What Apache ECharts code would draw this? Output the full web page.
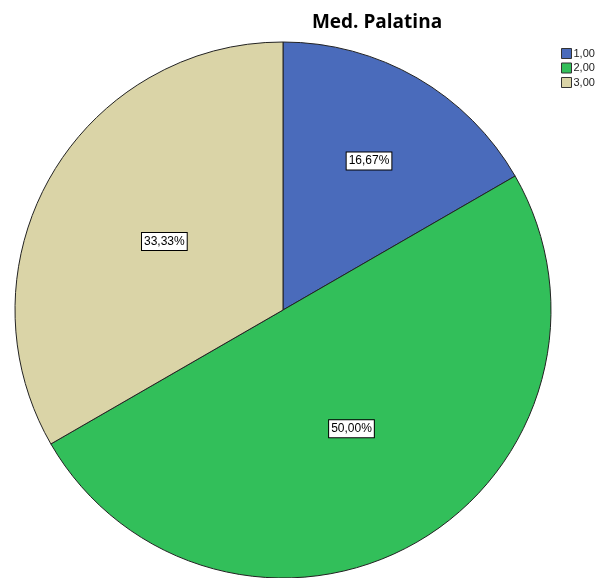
<!DOCTYPE html>
<html><head><meta charset="utf-8">
<script src="https://cdn.jsdelivr.net/npm/echarts@6/dist/echarts.min.js"></script>
<style>html,body{margin:0;padding:0;background:#fff}#c{width:597px;height:578px}</style>
</head><body><div id="c"></div>
<script>
const title = "Med. Palatina";
const categories = ["1,00", "2,00", "3,00"];
const percents = [16.67, 50.00, 33.33];
const colors = ["#4a6bbb", "#32bf5a", "#dad4a7"];

const chart = echarts.init(document.getElementById('c'));
const fmt = v => v.toFixed(2).replace('.', ',') + '%';
const labelStyle = {
  color: '#000', fontFamily: 'Liberation Sans, Arial', fontSize: 12,
  backgroundColor: '#fff', borderColor: '#000', borderWidth: 1,
  padding: [3, 2, 2, 2]
};
chart.setOption({
  animation: false,
  title: {
    text: title, left: 372, top: 8, textAlign: 'center',
    textStyle: { fontFamily: 'Open Sans, Liberation Sans', fontWeight: 'bold', fontSize: 19, color: '#000' }
  },
  legend: {
    orient: 'vertical', left: 556, top: 43, itemWidth: 10, itemHeight: 10, itemGap: 3.5,
    icon: 'rect',
    itemStyle: { borderColor: '#333', borderWidth: 1 },
    textStyle: { fontFamily: 'Liberation Sans, Arial', fontSize: 11, color: '#222', padding: [0,0,0,-3] },
    data: categories
  },
  series: [{
    type: 'pie', center: [283, 310], radius: [0, 268], startAngle: 90, clockwise: true,
    silent: true,
    itemStyle: { borderColor: '#222', borderWidth: 1 },
    label: Object.assign({ position: 'inside', formatter: p => fmt(p.value) }, labelStyle),
    labelLine: { show: false },
    data: categories.map((c, i) => ({
      name: c, value: percents[i], itemStyle: { color: colors[i] },
      label: { show: i !== 0 }
    }))
  }, {
    type: 'pie', center: [283, 310], radius: [70, 268], startAngle: 90, clockwise: true,
    silent: true, legendHoverLink: false,
    itemStyle: { color: 'rgba(0,0,0,0)', borderWidth: 0 },
    label: Object.assign({ position: 'inside', formatter: p => fmt(p.value) }, labelStyle),
    labelLine: { show: false },
    data: categories.map((c, i) => ({
      name: 'lbl' + c, value: percents[i],
      label: { show: i === 0 }
    }))
  }]
});
</script></body></html>
